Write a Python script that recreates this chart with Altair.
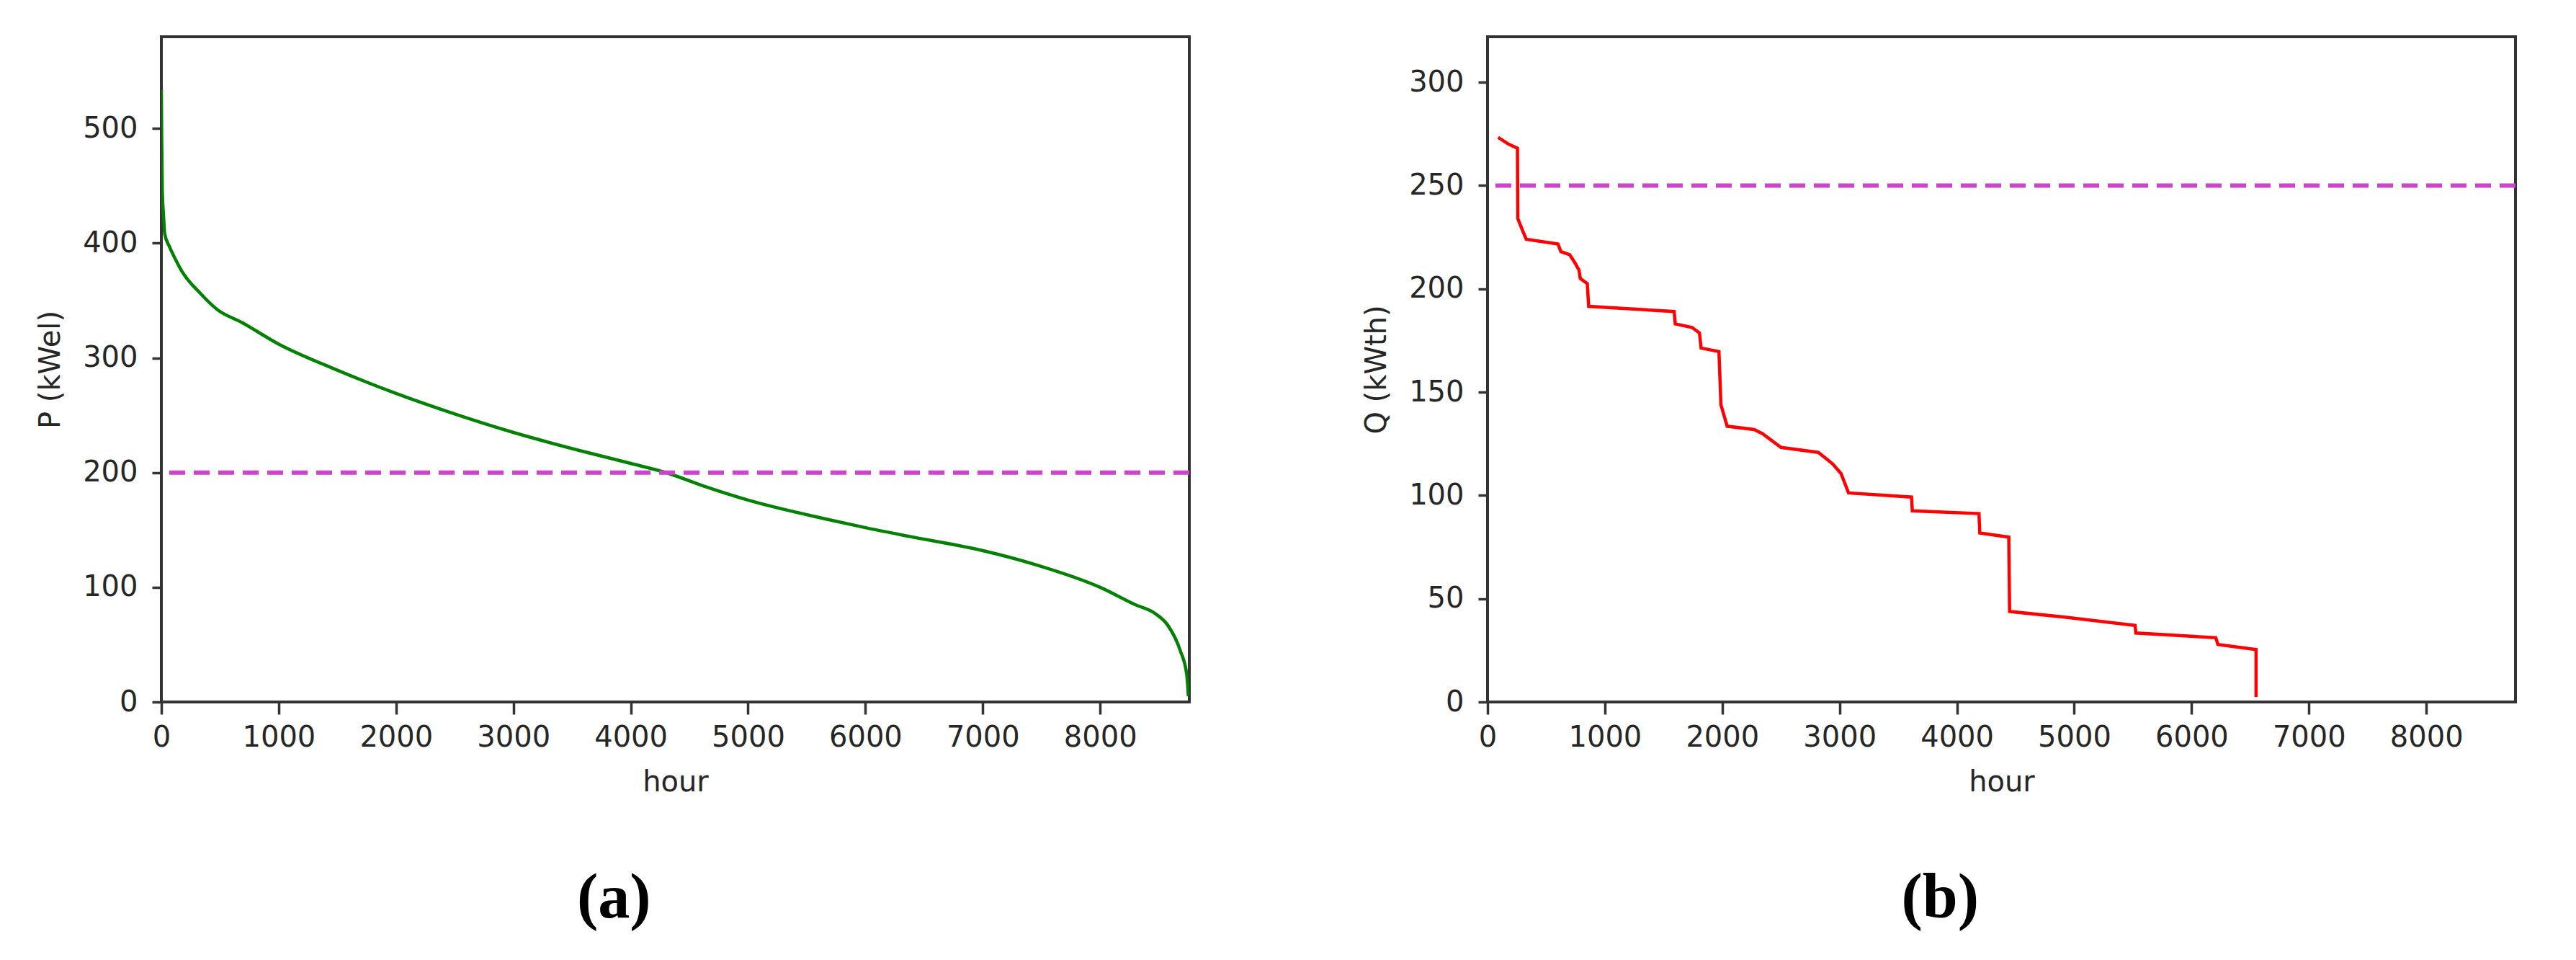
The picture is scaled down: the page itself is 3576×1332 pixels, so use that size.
import altair as alt
import pandas as pd

# ---- data ----
hours_p = [0, 3, 8, 18, 29, 69, 120, 172, 335, 478, 684, 1000, 1459, 2000, 2445, 3000,
           3573, 4000, 4300, 4630, 5000, 5687, 6000, 6392, 7000, 7442, 8000, 8296,
           8471, 8576, 8682, 8738, 8752]
power_p = [534, 490, 446, 425, 408, 397, 386, 376, 356, 342, 331, 312, 291, 269, 253, 235,
           219, 208, 200, 188, 176, 159, 152, 144, 132, 120, 100, 85,
           77, 67, 45, 24, 5]

hours_q = [90, 180, 255, 258, 300, 330, 600, 625, 700, 740, 780, 790, 850, 862, 1590,
           1600, 1742, 1806, 1820, 1972, 1989, 2042, 2272, 2343, 2501, 2819, 2942, 3013,
           3076, 3613, 3620, 4188, 4195, 4442, 4449, 4918, 5518, 5525, 6206, 6224, 6549, 6549]
heat_q = [273.3, 270, 268, 234, 228, 224, 221.7, 218, 216.5, 213, 209, 205, 202.5, 191.5, 189,
          183, 181.3, 178.6, 171.3, 169.6, 143.9, 133.5, 131.9, 129.9, 123.2, 120.8, 115.2, 110.5,
          101.2, 99.2, 92.5, 91.2, 81.8, 79.8, 43.8, 41.1, 37.1, 33.4, 31.1, 27.8, 25.4, 2.4]

p_limit = [200]
q_limit = [250]

x_ticks = [0, 1000, 2000, 3000, 4000, 5000, 6000, 7000, 8000]
p_ticks = [0, 100, 200, 300, 400, 500]
q_ticks = [0, 50, 100, 150, 200, 250, 300]

x_domain = [0, 8760]
p_domain = [0, 580]
q_domain = [0, 322]

W, H = 1427, 923
TXT = "#262626"


def panel(hours, values, color, ylab, ydom, yticks, limit, caption, interp):
    df = pd.DataFrame({"hour": hours, "value": values, "i": list(range(len(hours)))})
    lim = pd.DataFrame({"value": limit})
    x = alt.X("hour:Q",
              scale=alt.Scale(domain=x_domain, nice=False, zero=False),
              axis=alt.Axis(values=x_ticks, title="hour", format="d",
                            tickSize=17, labelPadding=12, titlePadding=22))
    y = alt.Y("value:Q",
              scale=alt.Scale(domain=ydom, nice=False, zero=False),
              axis=alt.Axis(values=yticks, title=ylab, format="d",
                            tickSize=13, labelPadding=20, titlePadding=24))
    line = alt.Chart(df).mark_line(color=color, strokeWidth=4.5, clip=True,
                                   interpolate=interp).encode(
        x=x, y=y, order=alt.Order("i:Q"))
    rule = alt.Chart(lim).mark_rule(color="#CC44CC", strokeWidth=6,
                                    strokeDash=[22, 12]).encode(y=alt.Y("value:Q"))
    return alt.layer(line, rule).properties(
        width=W, height=H,
        title=alt.TitleParams(caption, orient="bottom", anchor="middle", frame="bounds",
                              font="Liberation Serif", fontSize=88, fontWeight="bold",
                              color="black", offset=98))


left = panel(hours_p, power_p, "#008000", "P (kWel)", p_domain, p_ticks, p_limit, "(a)",
             "monotone")
right = panel(hours_q, heat_q, "#FF0000", "Q (kWth)", q_domain, q_ticks, q_limit, "(b)",
              "linear")

chart = alt.hconcat(left, right, spacing=233).properties(
    padding={"left": 40, "top": 41, "right": 5, "bottom": 5}
).configure_view(
    stroke="#333333", strokeWidth=4
).configure_axis(
    domain=False, grid=False, ticks=True,
    tickColor="#333333", tickWidth=3.5,
    labelFont="DejaVu Sans", labelFontSize=40, labelColor=TXT,
    labelFlush=False, labelOverlap=False,
    titleFont="DejaVu Sans", titleFontSize=40, titleFontWeight="normal", titleColor=TXT
)

chart.save("out.html", embed_options={"renderer": "svg", "actions": False})
